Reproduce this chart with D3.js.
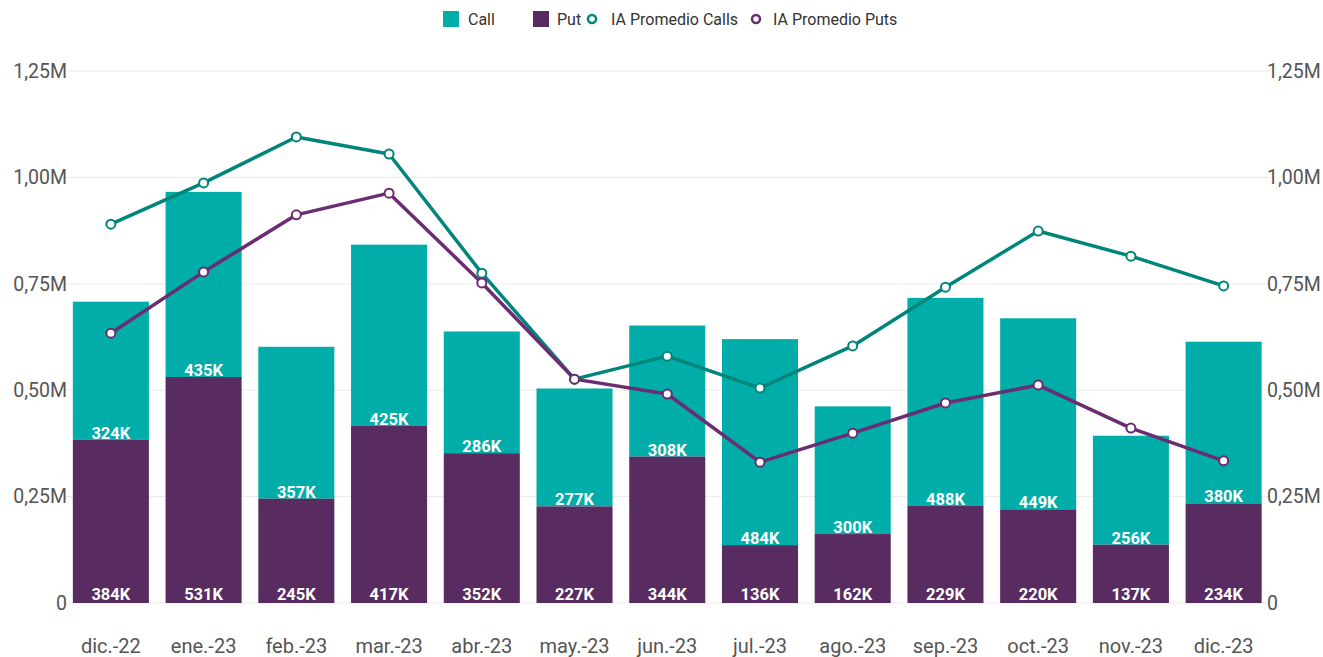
<!DOCTYPE html>
<html>
<head>
<meta charset="utf-8">
<script src="https://cdn.jsdelivr.net/npm/d3@7"></script>
<style>
  body { margin: 0; background: #fff; font-family: Roboto, sans-serif; }
  .tick text { fill: #555; }
</style>
</head>
<body>
<div id="chart"></div>
<script>
const months = ["dic.-22", "ene.-23", "feb.-23", "mar.-23", "abr.-23", "may.-23", "jun.-23",
  "jul.-23", "ago.-23", "sep.-23", "oct.-23", "nov.-23", "dic.-23"];
const putValues = [384, 531, 245, 417, 352, 227, 344, 136, 162, 229, 220, 137, 234];
const callValues = [324, 435, 357, 425, 286, 277, 308, 484, 300, 488, 449, 256, 380];
const avgCalls = [0.890, 0.987, 1.095, 1.055, 0.775, 0.526, 0.580, 0.505, 0.604, 0.742, 0.874, 0.815, 0.745];
const avgPuts = [0.634, 0.778, 0.912, 0.963, 0.752, 0.526, 0.491, 0.331, 0.399, 0.470, 0.512, 0.411, 0.334];
const yTicks = [0, 0.25, 0.5, 0.75, 1.0, 1.25];

const colorCall = "#00ADA8", colorPut = "#582C61";
const colorLineCall = "#00857A", colorLinePut = "#6B2D72";

const W = 1323, H = 657;
const margin = { top: 71, right: 53, bottom: 54, left: 64.5 };

const svg = d3.select("#chart").append("svg")
  .attr("width", W).attr("height", H);

const x = d3.scaleBand().domain(months)
  .range([margin.left, W - margin.right]).paddingInner(0.18).paddingOuter(0.09);
const y = d3.scaleLinear().domain([0, 1.25]).range([603, margin.top]);

// gridlines
svg.append("g").selectAll("line").data(yTicks).enter().append("line")
  .attr("x1", margin.left).attr("x2", W - margin.right)
  .attr("y1", d => y(d)).attr("y2", d => y(d))
  .attr("stroke", "#ebebeb").attr("stroke-width", 1);

const fmt = d => d === 0 ? "0" : d.toFixed(2).replace(".", ",") + "M";

const yLeft = svg.append("g")
  .attr("transform", "translate(67,0)")
  .call(d3.axisLeft(y).tickValues(yTicks).tickFormat(fmt).tickSize(0).tickPadding(0));
const yRight = svg.append("g")
  .attr("transform", "translate(1267,0)")
  .call(d3.axisRight(y).tickValues(yTicks).tickFormat(fmt).tickSize(0).tickPadding(0));
[yLeft, yRight].forEach(g => {
  g.select(".domain").remove();
  g.selectAll("text").attr("font-size", 19.5).attr("font-family", "Roboto, sans-serif");
});

const xAxis = svg.append("g")
  .attr("transform", "translate(0,603)")
  .call(d3.axisBottom(x).tickSize(0).tickPadding(0));
xAxis.select(".domain").remove();
xAxis.selectAll("text").attr("font-size", 20).attr("y", 36).attr("dy", "0.71em")
  .attr("font-family", "Roboto, sans-serif").attr("fill", "#444");

// bars
const data = months.map((m, i) => ({ m: m, put: putValues[i] / 1000, call: callValues[i] / 1000,
  putK: putValues[i], callK: callValues[i] }));

svg.append("g").selectAll("rect").data(data).enter().append("rect")
  .attr("x", d => x(d.m)).attr("width", x.bandwidth())
  .attr("y", d => y(d.put + d.call)).attr("height", d => y(d.put) - y(d.put + d.call))
  .attr("fill", colorCall);
svg.append("g").selectAll("rect").data(data).enter().append("rect")
  .attr("x", d => x(d.m)).attr("width", x.bandwidth())
  .attr("y", d => y(d.put)).attr("height", d => y(0) - y(d.put))
  .attr("fill", colorPut);

const labels = svg.append("g").attr("font-family", "Roboto, sans-serif")
  .attr("font-size", 16.5).attr("font-weight", "bold").attr("fill", "#fff")
  .attr("text-anchor", "middle");
labels.selectAll(".lp").data(data).enter().append("text")
  .attr("x", d => x(d.m) + x.bandwidth() / 2).attr("y", y(0) - 3)
  .text(d => d.putK + "K");
labels.selectAll(".lc").data(data).enter().append("text")
  .attr("x", d => x(d.m) + x.bandwidth() / 2).attr("y", d => y(d.put) - 1)
  .text(d => d.callK + "K");

// lines
function drawLine(vals, color) {
  const line = d3.line()
    .x((d, i) => x(months[i]) + x.bandwidth() / 2)
    .y(d => y(d));
  svg.append("path").datum(vals)
    .attr("d", line).attr("fill", "none")
    .attr("stroke", color).attr("stroke-width", 3.5).attr("stroke-linejoin", "round");
  svg.append("g").selectAll("circle").data(vals).enter().append("circle")
    .attr("cx", (d, i) => x(months[i]) + x.bandwidth() / 2)
    .attr("cy", d => y(d)).attr("r", 4.5)
    .attr("fill", "#fff").attr("stroke", color).attr("stroke-width", 2);
}
drawLine(avgCalls, colorLineCall);
drawLine(avgPuts, colorLinePut);

// legend
const leg = svg.append("g").attr("font-family", "Roboto, sans-serif").attr("font-size", 16)
  .attr("fill", "#333");
const legItems = [
  { t: "Call", c: colorCall, type: "rect", x: 443, tx: 468 },
  { t: "Put", c: colorPut, type: "rect", x: 533, tx: 557 },
  { t: "IA Promedio Calls", c: colorLineCall, type: "circle", x: 592, tx: 611 },
  { t: "IA Promedio Puts", c: colorLinePut, type: "circle", x: 756, tx: 773 }
];
legItems.forEach(it => {
  if (it.type === "rect") {
    leg.append("rect").attr("x", it.x).attr("y", 11).attr("width", 16).attr("height", 16).attr("fill", it.c);
  } else {
    leg.append("circle").attr("cx", it.x).attr("cy", 19).attr("r", 4)
      .attr("fill", "#fff").attr("stroke", it.c).attr("stroke-width", 2.5);
  }
  leg.append("text").attr("x", it.tx).attr("y", 24.5).text(it.t);
});
</script>
</body>
</html>
